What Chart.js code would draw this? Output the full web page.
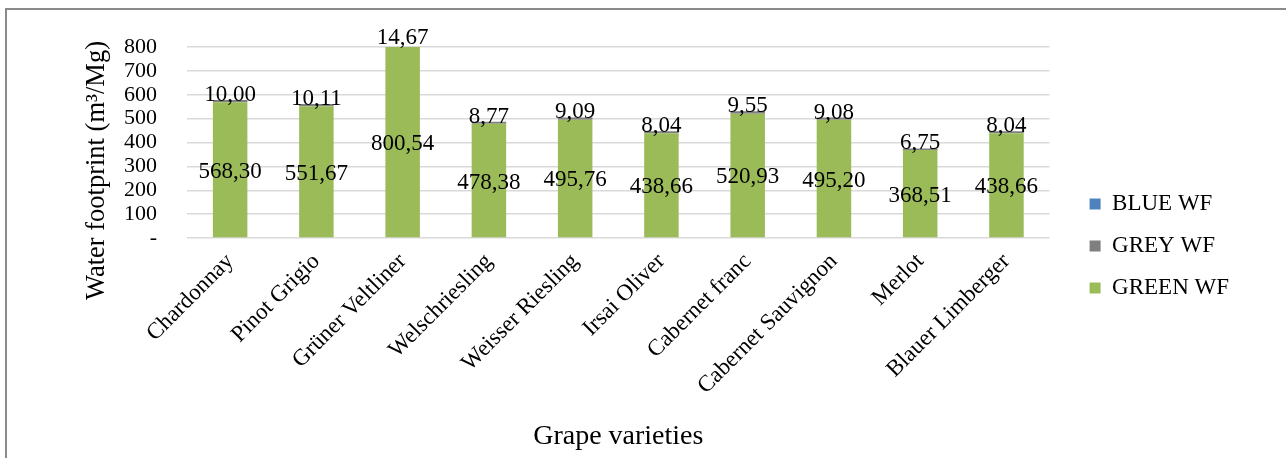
<!DOCTYPE html>
<html>
<head>
<meta charset="utf-8">
<title>Water footprint of grape varieties</title>
<script src="https://cdn.jsdelivr.net/npm/chart.js@4.4.1/dist/chart.umd.min.js"></script>
<style>
  html, body { margin: 0; padding: 0; background: #ffffff; }
  #wrap { width: 1286px; height: 458px; position: relative; }
</style>
</head>
<body>
<div id="wrap"><canvas id="wf" width="1286" height="458"></canvas></div>
<script>
// Grape varieties on the x axis
const varieties = [
  'Chardonnay', 'Pinot Grigio', 'Grüner Veltliner', 'Welschriesling', 'Weisser Riesling',
  'Irsai Oliver', 'Cabernet franc', 'Cabernet Sauvignon', 'Merlot', 'Blauer Limberger'
];

// Water footprint components (m³/Mg)
const greenWF = [568.30, 551.67, 800.54, 478.38, 495.76, 438.66, 520.93, 495.20, 368.51, 438.66];
const greyWF  = [10.00, 10.11, 14.67, 8.77, 9.09, 8.04, 9.55, 9.08, 6.75, 8.04];
const blueWF  = [0, 0, 0, 0, 0, 0, 0, 0, 0, 0];

// Value axis range
const yMin = 0;
const yMax = 800;
const yStep = 100;

const SERIF = '"Liberation Serif", "Times New Roman", Times, serif';

// Outer frame of the chart (top and left edges)
const framePlugin = {
  id: 'frame',
  beforeDraw(chart) {
    const ctx = chart.ctx;
    ctx.save();
    ctx.fillStyle = '#ffffff';
    ctx.fillRect(0, 0, chart.width, chart.height);
    ctx.strokeStyle = '#8a8a8a';
    ctx.lineWidth = 2;
    ctx.beginPath();
    ctx.moveTo(6, chart.height);
    ctx.lineTo(6, 9);
    ctx.lineTo(chart.width, 9);
    ctx.stroke();
    ctx.restore();
  }
};

// Rotated value-axis title, sitting a little below the middle of the plot
const yTitlePlugin = {
  id: 'yTitle',
  afterDraw(chart, args, opts) {
    const ctx = chart.ctx;
    const area = chart.chartArea;
    ctx.save();
    ctx.font = opts.size + 'px ' + SERIF;
    ctx.fillStyle = '#000000';
    ctx.textAlign = 'center';
    ctx.textBaseline = 'middle';
    ctx.translate(opts.x, (area.top + area.bottom) / 2 + opts.shift);
    ctx.rotate(-Math.PI / 2);
    ctx.fillText(opts.text, 0, 0);
    ctx.restore();
  }
};

// Value labels: green in the middle of its bar, grey just above the stack
const valueLabels = {
  id: 'valueLabels',
  afterDatasetsDraw(chart, args, opts) {
    const ctx = chart.ctx;
    ctx.save();
    ctx.font = '23px ' + SERIF;
    ctx.fillStyle = '#000000';
    ctx.textAlign = 'center';
    chart.data.datasets.forEach((ds, di) => {
      const pos = opts.positions[ds.label];
      if (!pos) return;
      const meta = chart.getDatasetMeta(di);
      meta.data.forEach((bar, i) => {
        const text = ds.data[i].toFixed(2).replace('.', ',');
        if (pos === 'center') {
          ctx.textBaseline = 'middle';
          ctx.fillText(text, bar.x, (bar.y + bar.base) / 2 + 2);
        } else {
          ctx.textBaseline = 'alphabetic';
          ctx.fillText(text, bar.x, bar.y + 1);
        }
      });
    });
    ctx.restore();
  }
};

new Chart(document.getElementById('wf'), {
  type: 'bar',
  data: {
    labels: varieties,
    datasets: [
      { label: 'GREEN WF', data: greenWF, backgroundColor: '#9bbb59' },
      { label: 'GREY WF',  data: greyWF,  backgroundColor: '#7f7f7f' },
      { label: 'BLUE WF',  data: blueWF,  backgroundColor: '#4f81bd' }
    ]
  },
  options: {
    responsive: false,
    animation: false,
    devicePixelRatio: 1,
    datasets: {
      bar: { categoryPercentage: 1.0, barPercentage: 0.4, borderWidth: 0 }
    },
    layout: { padding: { left: 81, right: 47, top: 38, bottom: 4 } },
    scales: {
      x: {
        stacked: true,
        grid: { display: false, drawTicks: false },
        border: { display: false },
        ticks: {
          color: '#000000',
          font: { family: SERIF, size: 23 },
          minRotation: 45,
          maxRotation: 45,
          padding: 10,
          autoSkip: false
        },
        title: {
          display: true,
          text: 'Grape varieties',
          color: '#000000',
          font: { family: SERIF, size: 28 },
          padding: { top: 0, bottom: 1 }
        },
        afterFit(scale) { scale.height = 216; }
      },
      y: {
        stacked: true,
        min: yMin,
        max: yMax,
        grid: { color: '#d9d9d9', lineWidth: 1.5, drawTicks: false },
        border: { display: false },
        ticks: {
          stepSize: yStep,
          autoSkip: false,
          color: '#000000',
          font: { family: SERIF, size: 22 },
          padding: 30,
          callback: (v) => (v === 0 ? '-' : String(v))
        },
        title: { display: false },
        afterFit(scale) { scale.width = 106; }
      },
      gap: {
        type: 'linear',
        position: 'right',
        display: true,
        grid: { display: false, drawTicks: false },
        border: { display: false },
        ticks: { display: false },
        afterFit(scale) { scale.width = 21; }
      }
    },
    plugins: {
      title: {
        display: true,
        text: '',
        font: { family: SERIF, size: 7.5 },
        padding: 0
      },
      legend: {
        position: 'right',
        reverse: true,
        labels: {
          color: '#000000',
          font: { family: SERIF, size: 23 },
          boxWidth: 11,
          boxHeight: 11,
          padding: 19
        }
      },
      tooltip: { enabled: false },
      yTitle: { text: 'Water footprint (m³/Mg)', size: 26.5, x: 97, shift: 28 },
      valueLabels: { positions: { 'GREEN WF': 'center', 'GREY WF': 'top' } }
    }
  },
  plugins: [framePlugin, yTitlePlugin, valueLabels]
});
</script>
</body>
</html>
